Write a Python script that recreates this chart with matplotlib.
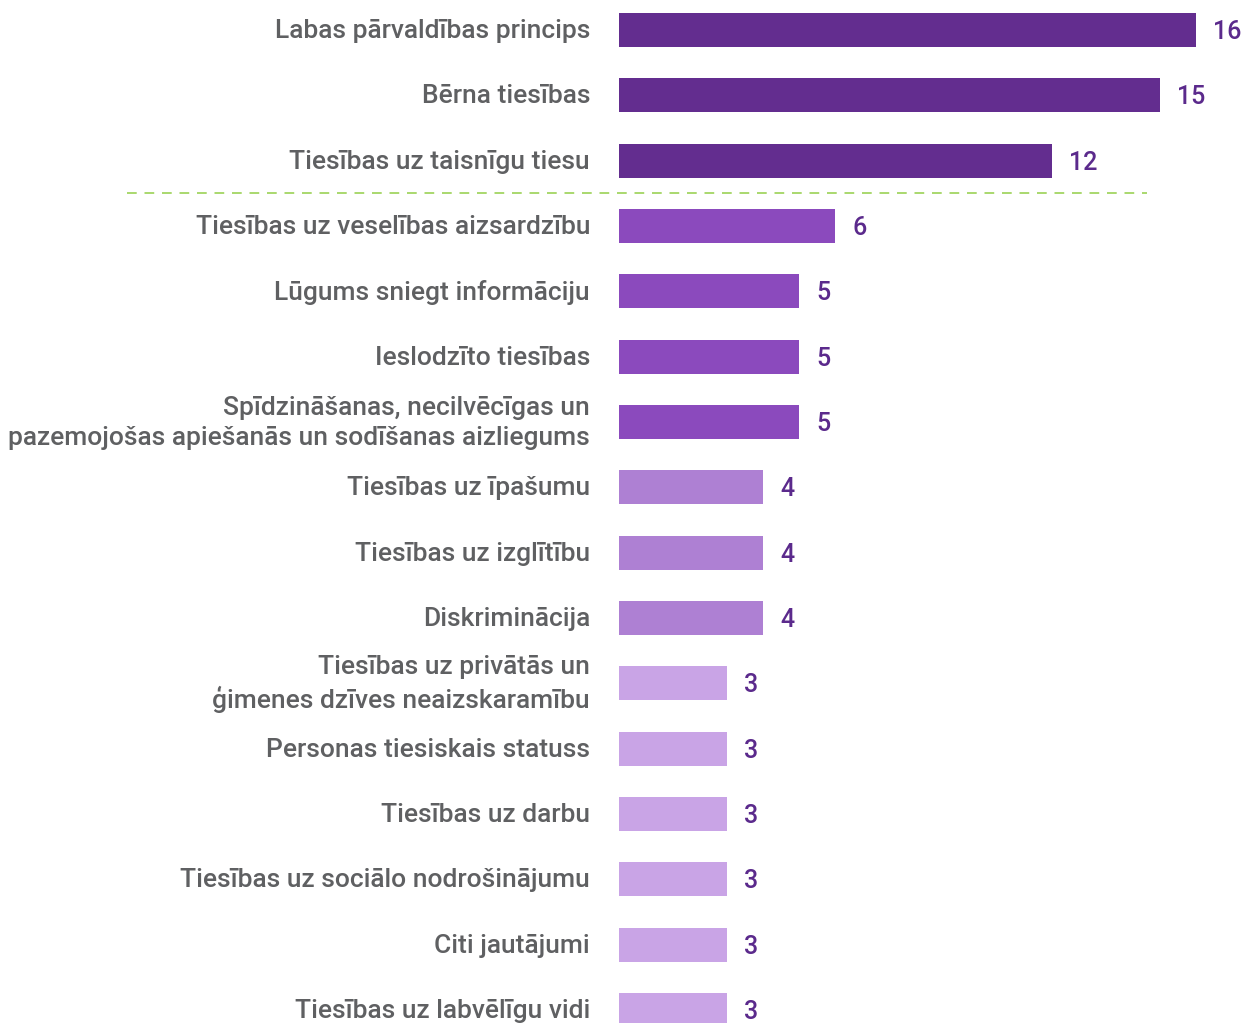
import matplotlib
matplotlib.use("Agg")
import matplotlib.pyplot as plt

categories = [
    "Labas pārvaldības princips",
    "Bērna tiesības",
    "Tiesības uz taisnīgu tiesu",
    "Tiesības uz veselības aizsardzību",
    "Lūgums sniegt informāciju",
    "Ieslodzīto tiesības",
    "Spīdzināšanas, necilvēcīgas un\npazemojošas apiešanās un sodīšanas aizliegums",
    "Tiesības uz īpašumu",
    "Tiesības uz izglītību",
    "Diskriminācija",
    "Tiesības uz privātās un\nģimenes dzīves neaizskaramību",
    "Personas tiesiskais statuss",
    "Tiesības uz darbu",
    "Tiesības uz sociālo nodrošinājumu",
    "Citi jautājumi",
    "Tiesības uz labvēlīgu vidi",
]
values = [16, 15, 12, 6, 5, 5, 5, 4, 4, 4, 3, 3, 3, 3, 3, 3]
tiers = [0, 0, 0, 1, 1, 1, 1, 2, 2, 2, 3, 3, 3, 3, 3, 3]
tier_colors = ["#632d8f", "#8b4abd", "#ae80d3", "#c9a4e6"]

TEXT_GREY = "#5f6062"
VALUE_PURPLE = "#5b2a8c"
FONT = ["Roboto", "DejaVu Sans"]

W, H = 1242, 1023
fig = plt.figure(figsize=(W / 100, H / 100), dpi=100)
left_px, right_px = 619, 1196
ax = fig.add_axes([left_px / W, 0, (right_px - left_px) / W, 1])

row_h = 65.33
first_px = 30
ypos = list(range(len(values)))
bars = ax.barh(ypos, values, height=34 / row_h,
               color=[tier_colors[t] for t in tiers], linewidth=0)

ax.set_xlim(0, max(values))
ax.set_ylim(len(values) - 1 + (H - 1010) / row_h, -first_px / row_h)

for y, v in zip(ypos, values):
    ax.annotate(str(v), (v, y), xytext=(17, -2), textcoords="offset pixels",
                ha="left", va="center", fontsize=18, fontweight="medium",
                color=VALUE_PURPLE, family=FONT, annotation_clip=False)
    ax.annotate(categories[y], (0, y), xytext=(-29, -1), textcoords="offset pixels",
                ha="right", va="center", fontsize=19, fontweight="medium",
                color=TEXT_GREY, family=FONT, linespacing=1.3,
                multialignment="right", annotation_clip=False)

# separator after the top group
ax.axhline(2.5, xmin=(127 - left_px) / (right_px - left_px),
           xmax=(1147 - left_px) / (right_px - left_px),
           color="#a9d86e", linewidth=1.4, dashes=(5, 4), clip_on=False)

ax.axis("off")
fig.savefig("out.png", dpi=100)
plt.close(fig)
